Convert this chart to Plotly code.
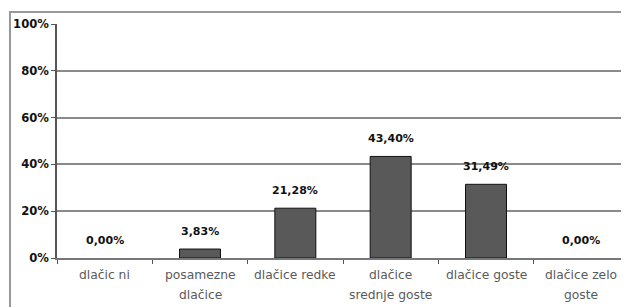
import plotly.graph_objects as go

categories = ["dlačic ni", "posamezne dlačice", "dlačice redke", "dlačice srednje goste", "dlačice goste", "dlačice zelo goste"]
label_lines = [["dlačic ni"], ["posamezne", "dlačice"], ["dlačice redke"], ["dlačice", "srednje goste"], ["dlačice goste"], ["dlačice zelo", "goste"]]
values = [0.00, 3.83, 21.28, 43.40, 31.49, 0.00]
y_ticks = [0, 0.2, 0.4, 0.6, 0.8, 1.0]

fracs = [v / 100 for v in values]
labels = [f"{v:.2f}".replace(".", ",") + "%" for v in values]

# page body has an 8px margin; figure origin is at (8, 8) on screen
W, H = 621, 299
ml, mr, mt, mb = 49, 0, 16, 49
pw, ph = W - ml - mr, H - mt - mb

fig = go.Figure()
fig.add_trace(go.Bar(
    x=categories, y=fracs, width=0.43,
    marker=dict(color="#595959", line=dict(color="#111111", width=[1 if v > 0 else 0 for v in values])),
    hoverinfo="skip",
))
for c, f, t in zip(categories, fracs, labels):
    fig.add_annotation(x=c, y=f, text=t, showarrow=False, yshift=18,
                       font=dict(family="DejaVu Sans", size=11, color="#111111", weight="bold"))

for c, lines in zip(categories, label_lines):
    for i, line in enumerate(lines):
        fig.add_annotation(x=c, y=0, text=line, showarrow=False, yshift=-17 - 20 * i,
                           font=dict(family="DejaVu Sans", size=12.3, color="#5a5a5a"))

# outer frame
fig.add_shape(type="rect", xref="paper", yref="paper",
              x0=(2 - ml) / pw, x1=1.02, y0=-0.5, y1=1 + 12 / ph,
              line=dict(color="#999999", width=2), layer="below")

fig.update_layout(
    width=W, height=H,
    margin=dict(l=ml, r=mr, t=mt, b=mb, autoexpand=False),
    paper_bgcolor="white", plot_bgcolor="white",
    showlegend=False,
    xaxis=dict(
        type="category", showline=True, linecolor="#777777", linewidth=1.5,
        ticks="outside", tickson="boundaries", ticklen=4, tickcolor="#555555",
        showticklabels=False, automargin=False,
        showgrid=False, fixedrange=True,
    ),
    yaxis=dict(
        range=[0, 1], tickvals=y_ticks, tickformat=".0%",
        showgrid=True, gridcolor="#8a8a8a", gridwidth=1.5,
        showline=True, linecolor="#555555", linewidth=1.5,
        ticks="outside", ticklen=4, tickcolor="#555555",
        tickfont=dict(family="DejaVu Sans", size=11.6, color="#111111", weight="bold"),
        zeroline=False, fixedrange=True, automargin=False,
    ),
)
fig.write_html("out.html")
